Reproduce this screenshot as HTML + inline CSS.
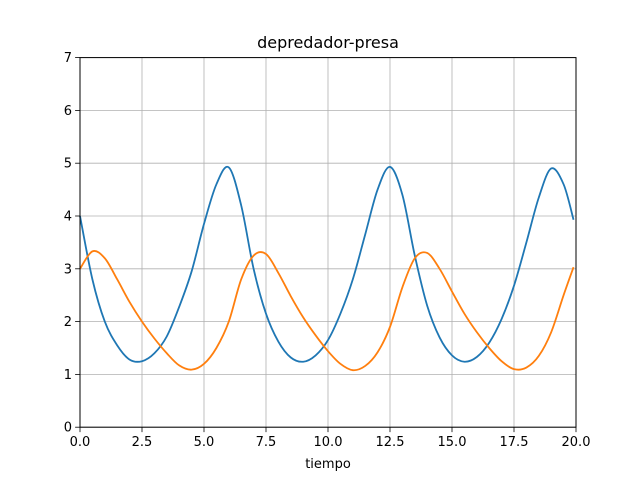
<!DOCTYPE html>
<html><head><meta charset="utf-8"><style>
html,body{margin:0;padding:0;background:#fff}
svg{display:block;font-family:"DejaVu Sans","Liberation Sans",sans-serif}
</style></head><body>
<svg id="chart" width="640" height="480" viewBox="0 0 640 480">
<rect x="0" y="0" width="640" height="480" fill="#fff"/>
<g id="grid"></g>
<g id="series"></g>
<rect x="80" y="57.6" width="496" height="369.6" fill="none" stroke="#000" stroke-width="1"/>
<g id="ticks"></g>
<text x="328" y="48" font-size="16" text-anchor="middle">depredador-presa</text>
<text x="328" y="468" font-size="13" text-anchor="middle">tiempo</text>
</svg>
<script>
const times = [0,0.5,1,1.5,2,2.5,3,3.5,4,4.5,5,5.5,6,6.5,7,7.5,8,8.5,9,9.5,10,10.5,11,11.5,12,12.5,13,13.5,14,14.5,15,15.5,16,16.5,17,17.5,18,18.5,19,19.5,19.9];
const prey = [4.0,2.8,2.0,1.55,1.28,1.25,1.4,1.72,2.28,2.95,3.85,4.6,4.92,4.2,3.0,2.15,1.62,1.32,1.24,1.36,1.65,2.15,2.8,3.65,4.5,4.93,4.4,3.25,2.3,1.7,1.36,1.24,1.33,1.6,2.05,2.68,3.5,4.35,4.9,4.6,3.93];
const predator = [3.0,3.33,3.2,2.8,2.37,2.0,1.68,1.4,1.17,1.09,1.2,1.5,2.0,2.8,3.25,3.28,2.92,2.48,2.08,1.74,1.44,1.2,1.08,1.16,1.42,1.9,2.65,3.2,3.3,3.0,2.57,2.15,1.8,1.5,1.25,1.1,1.13,1.35,1.8,2.5,3.03];
const xTicks = [0,2.5,5,7.5,10,12.5,15,17.5,20];
const xTickLabels = ["0.0","2.5","5.0","7.5","10.0","12.5","15.0","17.5","20.0"];
const yTicks = [0,1,2,3,4,5,6,7];
const yTickLabels = ["0","1","2","3","4","5","6","7"];

const X0=80,X1=576,Y0=427.2,Y1=57.6;
const sx=v=>X0+(v-0)/(20-0)*(X1-X0);
const sy=v=>Y0-(v-0)/(7-0)*(Y0-Y1);
const NS="http://www.w3.org/2000/svg";
const grid=document.getElementById('grid'),ticks=document.getElementById('ticks'),series=document.getElementById('series');
function mk(tag,attrs,parent){const e=document.createElementNS(NS,tag);for(const k in attrs)e.setAttribute(k,attrs[k]);parent.appendChild(e);return e;}
xTicks.forEach((v,i)=>{
  const x=sx(v);
  const g=mk('line',{x1:x,x2:x,y1:Y1,y2:Y0,stroke:'#b0b0b0','stroke-width':0.8},grid);
  
  
  const t=mk('line',{x1:x,x2:x,y1:Y0,y2:Y0+4.9,stroke:'#000','stroke-width':0.8},ticks);
  
  
  const l=mk('text',{x:x,y:Y0+19,'font-size':13,'text-anchor':'middle'},ticks);
  l.textContent=xTickLabels[i];
  
  
});
yTicks.forEach((v,i)=>{
  const y=sy(v);
  const g=mk('line',{x1:X0,x2:X1,y1:y,y2:y,stroke:'#b0b0b0','stroke-width':0.8},grid);
  
  
  const t=mk('line',{x1:X0-4.9,x2:X0,y1:y,y2:y,stroke:'#000','stroke-width':0.8},ticks);
  
  
  const l=mk('text',{x:X0-8,y:y+4.5,'font-size':13,'text-anchor':'end'},ticks);
  l.textContent=yTickLabels[i];
  
  
});
function path(vals){
  const p=times.map((t,i)=>[sx(t),sy(vals[i])]);
  let d='M'+p[0][0]+','+p[0][1];
  for(let i=0;i<p.length-1;i++){
    const a=p[Math.max(i-1,0)],b=p[i],c=p[i+1],e=p[Math.min(i+2,p.length-1)];
    const c1=[b[0]+(c[0]-a[0])/6,b[1]+(c[1]-a[1])/6],c2=[c[0]-(e[0]-b[0])/6,c[1]-(e[1]-b[1])/6];
    d+=' C'+c1+' '+c2+' '+c;
  }
  return d;
}
const s1=mk('path',{d:path(prey),fill:'none',stroke:'#1f77b4','stroke-width':1.8},series);


const s2=mk('path',{d:path(predator),fill:'none',stroke:'#ff7f0e','stroke-width':1.8},series);


</script>
</body></html>
